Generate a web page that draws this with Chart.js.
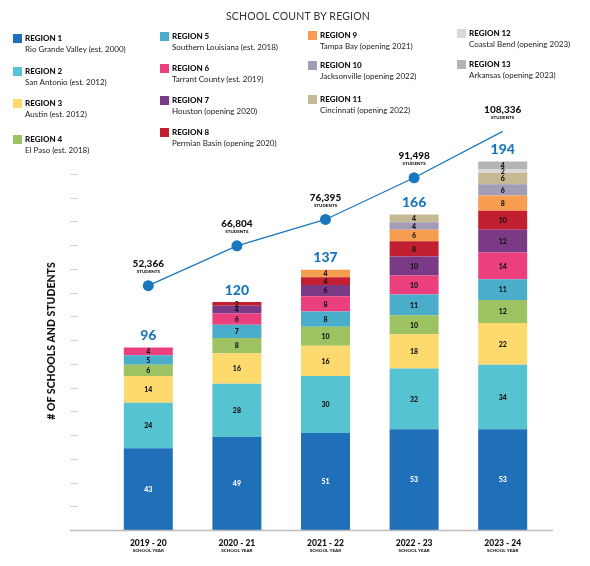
<!DOCTYPE html>
<html>
<head>
<meta charset="utf-8">
<script src="https://cdn.jsdelivr.net/npm/chart.js@4.4.1/dist/chart.umd.min.js"></script>
<style>
html, body { margin: 0; padding: 0; background: #fff; }
#wrap { position: relative; width: 590px; height: 566px; font-family: Lato, 'Open Sans', sans-serif; overflow: hidden; }
#chart { position: absolute; left: 0; top: 0; }
.title { position: absolute; top: 10px; left: 0; width: 596px; text-align: center; font-size: 10.5px; color: #333; letter-spacing: 0.2px; }
.lg { position: absolute; line-height: 10.5px; }
.lg .sw { position: absolute; left: -12px; top: 1px; width: 9px; height: 9px; }
.lg b { display: block; font-size: 8px; font-weight: 900; color: #111; }
.lg span { display: block; font-size: 8px; color: #222; white-space: nowrap; }
</style>
</head>
<body>
<div id="wrap">
  <canvas id="chart" width="590" height="566"></canvas>
  <div class="title">SCHOOL COUNT BY REGION</div>
  <div id="legenda"></div>
</div>
<script>
// anos letivos e dados
const anos = ['2019 - 20', '2020 - 21', '2021 - 22', '2022 - 23', '2023 - 24'];
const regioes = ['REGION 1', 'REGION 2', 'REGION 3', 'REGION 4', 'REGION 5', 'REGION 6', 'REGION 7',
  'REGION 8', 'REGION 9', 'REGION 10', 'REGION 11', 'REGION 12', 'REGION 13'];
const locais = ['Rio Grande Valley (est. 2000)', 'San Antonio (est. 2012)', 'Austin (est. 2012)',
  'El Paso (est. 2018)', 'Southern Louisiana (est. 2018)', 'Tarrant County (est. 2019)',
  'Houston (opening 2020)', 'Permian Basin (opening 2020)', 'Tampa Bay (opening 2021)',
  'Jacksonville (opening 2022)', 'Cincinnati (opening 2022)', 'Coastal Bend (opening 2023)',
  'Arkansas (opening 2023)'];

const regiao1 = [43, 49, 51, 53, 53];
const regiao2 = [24, 28, 30, 32, 34];
const regiao3 = [14, 16, 16, 18, 22];
const regiao4 = [6, 8, 10, 10, 12];
const regiao5 = [5, 7, 8, 11, 11];
const regiao6 = [4, 6, 8, 10, 14];
const regiao7 = [null, 4, 6, 10, 12];
const regiao8 = [null, 2, 4, 8, 10];
const regiao9 = [null, null, 4, 6, 8];
const regiao10 = [null, null, null, 4, 6];
const regiao11 = [null, null, null, 4, 6];
const regiao12 = [null, null, null, null, 2];
const regiao13 = [null, null, null, null, 4];
const totais = [96, 120, 137, 166, 194];
const alunos = [52366, 66804, 76395, 91498, 108336];

const series = [regiao1, regiao2, regiao3, regiao4, regiao5, regiao6, regiao7,
  regiao8, regiao9, regiao10, regiao11, regiao12, regiao13];
const cores = ['#1f70b8', '#56c4d0', '#fdd96e', '#9cc261', '#4aaecb', '#ec3f7e', '#7b3a85',
  '#c21f30', '#f69d50', '#a29cb6', '#c7b994', '#d8d8d8', '#b4b4b6'];
const azul = '#1a76bd';

// posições da legenda (x do texto, topo)
const posLegenda = [[25, 33], [25, 66], [25, 98], [25, 134], [172, 31], [172, 63], [172, 95], [172, 127],
  [320, 30], [320, 60], [320, 94], [469, 28], [469, 59]];

const legenda = document.getElementById('legenda');
regioes.forEach((nome, i) => {
  const div = document.createElement('div');
  div.className = 'lg';
  div.style.left = posLegenda[i][0] + 'px';
  div.style.top = posLegenda[i][1] + 'px';
  div.innerHTML = `<i class="sw" style="background:${cores[i]}"></i><b>${nome}</b><span>${locais[i]}</span>`;
  legenda.appendChild(div);
});

const passo = 12.5;

const enfeites = {
  id: 'enfeites',
  afterDatasetsDraw(chart) {
    const ctx = chart.ctx;
    const x = chart.scales.x, y = chart.scales.y;
    const base = y.getPixelForValue(0);
    ctx.save();

    // marcas do eixo e linha de base
    ctx.strokeStyle = '#d4d4d4';
    ctx.lineWidth = 1;
    for (let v = passo; v <= 188; v += passo) {
      const py = Math.round(y.getPixelForValue(v)) + 0.5;
      ctx.beginPath();
      ctx.moveTo(70, py);
      ctx.lineTo(78, py);
      ctx.stroke();
    }
    ctx.strokeStyle = '#bdbdbd';
    ctx.lineWidth = 1.5;
    ctx.beginPath();
    ctx.moveTo(70, base + 0.5);
    ctx.lineTo(553, base + 0.5);
    ctx.stroke();

    // valores dentro das barras
    ctx.textAlign = 'center';
    ctx.textBaseline = 'middle';
    ctx.font = '900 7px Lato';
    chart.data.datasets.forEach((ds, i) => {
      if (ds.type === 'line') return;
      chart.getDatasetMeta(i).data.forEach((bar, j) => {
        if (!ds.data[j]) return;
        ctx.fillStyle = i === 0 ? '#fff' : '#111';
        ctx.fillText(ds.data[j], bar.x, (bar.y + bar.base) / 2 + 0.5);
      });
    });

    // totais acima das barras
    ctx.fillStyle = azul;
    ctx.font = '900 14px Lato';
    totais.forEach((t, j) => {
      ctx.fillText(t, x.getPixelForValue(j), y.getPixelForValue(t) - 12);
    });

    // rótulos de alunos
    const linha = chart.getDatasetMeta(chart.data.datasets.length - 1);
    ctx.fillStyle = '#111';
    linha.data.forEach((pt, j) => {
      ctx.font = '900 10px Lato';
      ctx.fillText(alunos[j].toLocaleString('en-US'), pt.x, pt.y - 22);
      ctx.font = '900 4.5px Lato';
      ctx.fillText('STUDENTS', pt.x, pt.y - 14);
    });

    // anos letivos
    anos.forEach((a, j) => {
      const px = x.getPixelForValue(j);
      ctx.font = '900 8.5px Lato';
      ctx.fillText(a, px, base + 13);
      ctx.font = '900 4.5px Lato';
      ctx.fillText('SCHOOL YEAR', px, base + 21);
    });

    // título do eixo
    ctx.translate(52, 341);
    ctx.rotate(-Math.PI / 2);
    ctx.font = '900 10.5px Lato';
    ctx.fillText('# OF SCHOOLS AND STUDENTS', 0, 0);
    ctx.restore();
  }
};

const datasets = series.map((s, i) => ({
  label: regioes[i],
  data: s,
  backgroundColor: cores[i],
  borderWidth: 0,
  barPercentage: 0.553,
  categoryPercentage: 1,
  order: 1
}));
datasets.push({
  type: 'line',
  label: 'Students',
  data: alunos,
  yAxisID: 'y2',
  borderColor: azul,
  borderWidth: 1.2,
  pointRadius: 5.5,
  pointBackgroundColor: azul,
  pointBorderWidth: 0,
  clip: false,
  order: 0
});

new Chart(document.getElementById('chart'), {
  type: 'bar',
  data: { labels: anos, datasets: datasets },
  options: {
    responsive: false,
    animation: false,
    layout: { padding: { left: 104, right: 43, top: 150, bottom: 36 } },
    plugins: { legend: { display: false }, tooltip: { enabled: false } },
    scales: {
      x: { stacked: true, display: false, offset: true },
      y: { stacked: true, display: false, min: 0, max: 200 },
      y2: { display: false, min: -36280, max: 101580 }
    }
  },
  plugins: [enfeites]
});
</script>
</body>
</html>
